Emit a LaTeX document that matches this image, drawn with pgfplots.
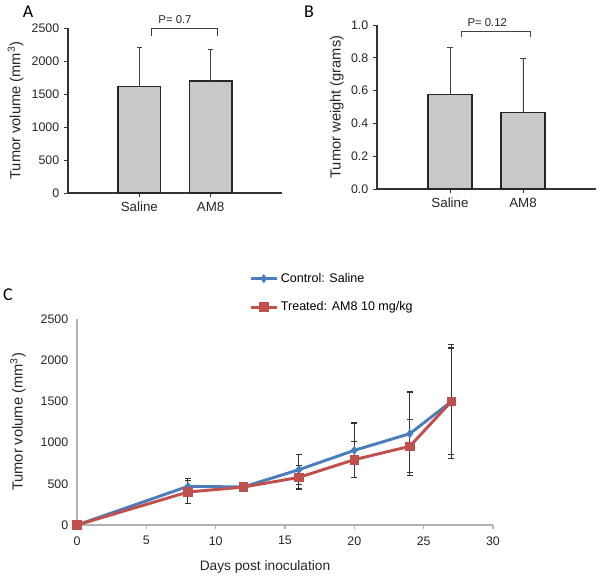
\documentclass[border=0pt]{standalone}
\usepackage{fontspec}
\setmainfont{Liberation Sans}
\newfontfamily\panelfont{Carlito}
\usepackage{pgfplots}
\pgfplotsset{compat=1.18}

\definecolor{ctrlblue}{HTML}{4A7EBB}
\definecolor{treatred}{HTML}{C0504D}
\definecolor{bargray}{HTML}{C8C8C8}

% 1 px of the reference = 0.75pt
\pgfplotsset{
  /pgf/number format/1000 sep={},
  barpanel/.style={
    scale only axis, axis lines=left,
    axis line style={-, draw=black!80, line width=0.9pt},
    tick align=outside, major tick length=3pt,
    tick style={draw=black!80, line width=0.6pt},
    xmin=0, xmax=3, xtick={1,2}, xticklabels={Saline,AM8},
    ybar, bar width=0.6, clip=false,
    /pgf/number format/assume math mode=true,
    yticklabel style={font=\fontsize{9.3}{10}\selectfont, text=black!85},
    xticklabel style={font=\fontsize{10}{11}\selectfont, text=black!85},
    ylabel style={font=\fontsize{11}{12}\selectfont, text=black!85, anchor=center},
  },
}

\begin{document}
\begin{tikzpicture}
\path[use as bounding box] (0,0) rectangle (450pt,-432.75pt);

% ---------- A ----------
\begin{axis}[barpanel, at={(51pt,-144.75pt)}, anchor=south west,
  width=160.5pt, height=123.75pt,
  ymin=0, ymax=2500, ytick={0,500,...,2500},
  ylabel={Tumor volume (mm\textsuperscript{3})},
  ylabel style={at={(axis description cs:-0.245,0.5)}}]
\addplot[fill=bargray, draw=black!85, line width=1pt,
  error bars/.cd, y dir=plus, y explicit,
  error bar style={line width=0.7pt, black!75},
  error mark options={rotate=90, mark size=1.9pt, line width=0.7pt, black!75}]
  coordinates {(1,1610) +- (0,595) (2,1699) +- (0,482)};
\draw[black!75, line width=0.6pt] (axis cs:1.173,2383) -- (axis cs:1.173,2490)
  -- (axis cs:2.093,2490) -- (axis cs:2.093,2383);
\node[font=\fontsize{8.5}{10}\selectfont, text=black!85, anchor=south]
  at (axis cs:1.5,2500) {P= 0.7};
\end{axis}

% ---------- B ----------
\begin{axis}[barpanel, at={(282.75pt,-141.75pt)}, anchor=south west,
  width=164.25pt, height=123pt,
  ymin=0, ymax=1, ytick={0,0.2,...,1.0},
  yticklabel style={/pgf/number format/.cd, fixed, fixed zerofill, precision=1},
  ylabel={Tumor weight (grams)},
  ylabel style={at={(axis description cs:-0.183,0.5)}}]
\addplot[fill=bargray, draw=black!85, line width=1pt,
  error bars/.cd, y dir=plus, y explicit,
  error bar style={line width=0.7pt, black!75},
  error mark options={rotate=90, mark size=1.9pt, line width=0.7pt, black!75}]
  coordinates {(1,0.576) +- (0,0.288) (2,0.466) +- (0,0.330)};
\draw[black!75, line width=0.6pt] (axis cs:1.16,0.929) -- (axis cs:1.16,0.963)
  -- (axis cs:2.10,0.963) -- (axis cs:2.10,0.929);
\node[font=\fontsize{8.5}{10}\selectfont, text=black!85, anchor=south]
  at (axis cs:1.51,0.963) {P= 0.12};
\end{axis}

% ---------- C ----------
\begin{axis}[at={(57.75pt,-393.75pt)}, anchor=south west,
  scale only axis, width=312pt, height=154.5pt,
  axis lines=left, axis line style={-, draw=black!30, line width=0.8pt},
  xmin=0, xmax=30, ymin=0, ymax=2500,
  xtick={0,5,...,30}, ytick={0,500,...,2500},
  tick align=outside, major tick length=3pt,
  xtick style={draw=black!30, line width=0.8pt},
  ytick style={draw=none},
  clip=false,
  /pgf/number format/assume math mode=true,
  yticklabel style={font=\fontsize{9.3}{10}\selectfont, text=black!85},
  xticklabel style={font=\fontsize{9.3}{10}\selectfont, text=black!85, yshift=-2pt},
  ylabel={Tumor volume (mm\textsuperscript{3})},
  ylabel style={font=\fontsize{11}{12}\selectfont, text=black!85,
    at={(axis description cs:-0.142,0.5)}, anchor=center},
  xlabel={Days post inoculation},
  xlabel style={font=\fontsize{10.3}{12}\selectfont, text=black!85,
    at={(axis description cs:0.452,-0.204)}, anchor=center},
  legend style={draw=none, fill=none, at={(0.404,1.25)}, anchor=north west,
    font=\fontsize{9.4}{11}\selectfont, row sep=9pt},
  legend cell align=left,
  legend image code/.code={
    \draw[mark repeat=2, mark phase=2] plot coordinates {(0pt,0pt) (9.75pt,0pt) (19.5pt,0pt)};},
]
\addplot[ctrlblue, line width=2.2pt, mark=diamond*, mark size=3pt,
  mark options={solid, fill=ctrlblue, line width=0.5pt},
  error bars/.cd, y dir=both, y explicit,
  error bar style={line width=0.8pt, black!80},
  error mark options={rotate=90, mark size=2.3pt, line width=0.8pt, black!80}]
  coordinates {
  (0,0) +- (0,0)
  (8,469) +- (0,95)
  (12,462) +- (0,45)
  (16,671) +- (0,182)
  (20,906) +- (0,332)
  (24,1108) +- (0,506)
  (27,1500) +- (0,688)
  };
\addlegendentry{Control: Saline}
\addplot[treatred, line width=2.2pt, mark=square*, mark size=3.2pt,
  mark options={solid, fill=treatred, line width=0.5pt},
  error bars/.cd, y dir=both, y explicit,
  error bar style={line width=0.8pt, black!80},
  error mark options={rotate=90, mark size=2.3pt, line width=0.8pt, black!80}]
  coordinates {
  (0,0) +- (0,0)
  (8,400) +- (0,141)
  (12,460) +- (0,55)
  (16,578) +- (0,141)
  (20,793) +- (0,215)
  (24,955) +- (0,323)
  (27,1500) +- (0,648)
  };
\addlegendentry{Treated: AM8 10 mg/kg}
\end{axis}

% panel letters
\node[font=\panelfont\fontsize{13.5}{15}\selectfont] at (21pt,-9pt) {A};
\node[font=\panelfont\fontsize{13.5}{15}\selectfont] at (231.75pt,-9pt) {B};
\node[font=\panelfont\fontsize{13.5}{15}\selectfont] at (6pt,-221.25pt) {C};
\end{tikzpicture}
\end{document}
